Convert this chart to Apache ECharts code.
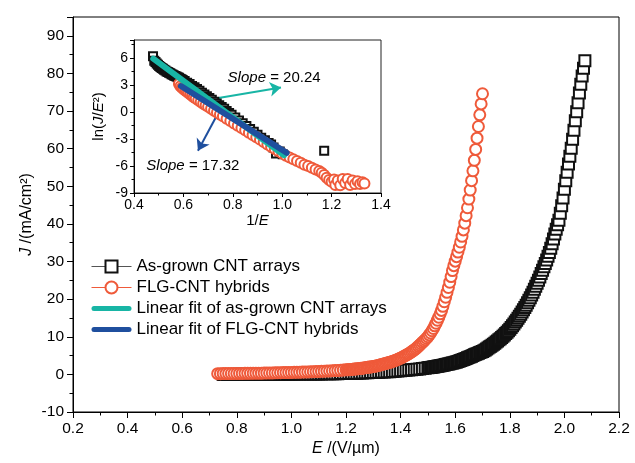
<!DOCTYPE html>
<html>
<head>
<meta charset="utf-8">
<script src="https://cdn.jsdelivr.net/npm/echarts@6/dist/echarts.min.js"></script>
<style>
  html, body { margin: 0; padding: 0; background: #fff; }
  #chart { width: 635px; height: 463px; }
</style>
</head>
<body>
<div id="chart"></div>
<script>
// ---- J–E curves: [E (V/µm), J (mA/cm²)] ----
const asGrownPoints = [
  [0.75,0.00],[0.76,0.00],[0.77,0.00],[0.78,0.00],[0.79,0.00],[0.80,0.01],[0.81,0.01],[0.82,0.01],[0.83,0.01],[0.84,0.01],
  [0.85,0.02],[0.86,0.02],[0.87,0.02],[0.88,0.02],[0.89,0.02],[0.90,0.03],[0.91,0.03],[0.92,0.03],[0.93,0.03],[0.94,0.04],
  [0.95,0.04],[0.96,0.04],[0.97,0.05],[0.98,0.05],[0.99,0.05],
  [1.00,0.06],[1.01,0.06],[1.02,0.07],[1.03,0.07],[1.04,0.08],[1.05,0.08],[1.06,0.09],[1.07,0.10],[1.08,0.10],[1.09,0.11],
  [1.10,0.12],[1.11,0.13],[1.12,0.14],[1.13,0.15],[1.14,0.16],[1.15,0.17],[1.16,0.18],[1.17,0.20],[1.18,0.21],[1.19,0.23],
  [1.20,0.25],[1.21,0.27],[1.22,0.29],[1.23,0.31],[1.24,0.33],[1.25,0.35],[1.26,0.38],[1.27,0.41],[1.28,0.44],[1.29,0.47],
  [1.30,0.50],[1.31,0.53],[1.32,0.57],[1.33,0.61],[1.34,0.65],[1.35,0.69],[1.36,0.73],[1.37,0.78],[1.38,0.83],[1.39,0.89],
  [1.40,0.95],[1.41,1.01],[1.42,1.08],[1.43,1.15],[1.44,1.22],[1.45,1.29],[1.46,1.37],[1.47,1.45],[1.48,1.54],[1.49,1.63],
  [1.500,1.75],[1.505,1.80],[1.510,1.86],[1.515,1.92],[1.520,1.98],[1.525,2.04],[1.530,2.10],[1.535,2.16],[1.540,2.23],[1.545,2.30],
  [1.550,2.37],[1.555,2.44],[1.560,2.52],[1.565,2.60],[1.570,2.68],[1.575,2.76],[1.580,2.85],[1.585,2.93],[1.590,3.02],[1.595,3.11],
  [1.600,3.20],[1.605,3.32],[1.610,3.45],[1.615,3.57],[1.620,3.70],[1.625,3.82],[1.630,3.95],[1.635,4.10],[1.640,4.25],[1.645,4.40],
  [1.650,4.55],[1.655,4.70],[1.660,4.85],[1.665,5.02],[1.670,5.20],[1.675,5.35],[1.680,5.50],[1.685,5.65],[1.690,5.80],[1.695,5.95],
  [1.700,6.10],[1.705,6.30],[1.710,6.50],[1.715,6.75],[1.720,7.00],[1.725,7.25],[1.730,7.50],[1.735,7.75],[1.740,8.00],[1.745,8.30],
  [1.750,8.60],[1.755,8.90],[1.760,9.20],[1.765,9.50],[1.770,9.80],[1.775,10.15],[1.780,10.5],[1.785,10.85],[1.790,11.2],[1.795,11.6],
  [1.800,12.0],[1.805,12.45],[1.810,12.9],[1.815,13.4],[1.820,13.9],[1.825,14.4],[1.830,14.9],[1.835,15.45],[1.840,16.0],[1.845,16.6],
  [1.850,17.2],[1.855,17.8],[1.860,18.4],[1.865,19.05],[1.870,19.7],[1.875,20.4],[1.880,21.1],[1.885,21.85],[1.890,22.6],[1.895,23.4],
  [1.900,24.2],[1.905,25.0],[1.910,25.9],[1.915,26.8],[1.920,27.7],[1.925,28.6],[1.930,29.5],[1.935,30.4],[1.940,31.4],[1.945,32.4],
  [1.950,33.5],[1.955,34.7],[1.960,36.0],[1.965,37.3],[1.970,38.6],[1.975,39.8],[1.980,41.0],[1.985,42.8],[1.990,44.8],[1.995,46.9],
  [2.000,49.2],[2.005,51.5],[2.010,53.7],[2.015,55.9],[2.020,58.0],[2.025,60.1],[2.030,62.5],[2.035,64.9],[2.040,67.4],[2.045,69.8],
  [2.050,72.2],[2.055,74.8],[2.060,77.1],[2.065,79.3],[2.070,81.4],[2.075,83.4]
];
const hybridPoints = [
  [0.73,0.20],[0.74,0.20],[0.75,0.21],[0.76,0.21],[0.77,0.22],[0.78,0.22],[0.79,0.23],
  [0.80,0.24],[0.81,0.25],[0.82,0.26],[0.83,0.27],[0.84,0.28],[0.85,0.29],[0.86,0.30],[0.87,0.31],[0.88,0.32],[0.89,0.33],
  [0.90,0.35],[0.91,0.36],[0.92,0.38],[0.93,0.39],[0.94,0.41],[0.95,0.43],[0.96,0.45],[0.97,0.47],[0.98,0.49],[0.99,0.51],
  [1.00,0.53],[1.01,0.55],[1.02,0.57],[1.03,0.59],[1.04,0.61],[1.05,0.63],[1.06,0.66],[1.07,0.69],[1.08,0.72],[1.09,0.75],
  [1.10,0.78],[1.11,0.81],[1.12,0.84],[1.13,0.88],[1.14,0.92],[1.15,0.96],[1.16,1.00],[1.17,1.04],[1.18,1.09],[1.19,1.14],
  [1.200,1.20],[1.205,1.23],[1.210,1.26],[1.215,1.30],[1.220,1.33],[1.225,1.37],[1.230,1.40],[1.235,1.44],[1.240,1.48],[1.245,1.52],
  [1.250,1.57],[1.255,1.61],[1.260,1.66],[1.265,1.71],[1.270,1.76],[1.275,1.81],[1.280,1.87],[1.285,1.93],[1.290,1.99],[1.295,2.05],
  [1.300,2.10],[1.305,2.17],[1.310,2.25],[1.315,2.32],[1.320,2.40],[1.325,2.50],[1.330,2.60],[1.335,2.70],[1.340,2.80],[1.345,2.90],
  [1.350,3.00],[1.355,3.10],[1.360,3.20],[1.365,3.32],[1.370,3.45],[1.375,3.57],[1.380,3.70],[1.385,3.85],[1.390,4.00],[1.395,4.15],
  [1.400,4.30],[1.405,4.50],[1.410,4.70],[1.415,4.90],[1.420,5.10],[1.425,5.30],[1.430,5.50],[1.435,5.75],[1.440,6.00],[1.445,6.25],
  [1.450,6.50],[1.455,6.80],[1.460,7.10],[1.465,7.45],[1.470,7.80],[1.475,8.15],[1.480,8.50],[1.485,8.85],[1.490,9.20],[1.495,9.60],
  [1.500,10.0],[1.505,10.5],[1.510,11.0],[1.515,11.6],[1.520,12.2],[1.525,12.9],[1.530,13.6],[1.535,14.4],[1.540,15.2],[1.545,16.1],
  [1.550,17.0],[1.555,18.1],[1.560,19.3],[1.565,20.5],[1.570,21.8],[1.575,23.1],[1.580,24.5],[1.585,26.0],[1.590,27.6],[1.595,28.9],
  [1.600,30.1],[1.605,31.3],[1.610,32.5],[1.615,33.8],[1.620,35.2],[1.625,36.7],[1.630,38.4],[1.635,40.2],[1.640,42.2],[1.645,44.3],
  [1.650,46.6],[1.655,49.0],[1.660,51.5],[1.665,54.1],[1.670,56.9],[1.675,59.8],[1.680,62.8],[1.685,65.9],[1.690,69.0],[1.695,71.9],
  [1.700,74.6]
];

// ---- Fowler–Nordheim plot: ln(J/E²) against 1/E ----
const asGrownInvE = [
  0.477,0.482,0.487,0.492,0.497,0.502,0.507,0.512,0.517,0.522,0.527,0.532,0.537,0.542,0.547,0.552,0.557,0.562,0.567,0.572,
  0.577,0.582,0.587,0.592,0.597,0.605,0.615,0.625,0.635,0.645,0.655,0.665,0.675,0.685,0.695,0.705,0.715,0.725,0.735,0.745,
  0.755,0.765,0.775,0.785,0.795,0.810,0.825,0.840,0.855,0.870,0.885,0.900,0.915,0.930,0.945,0.955,0.965,0.975,0.990,1.002,
  1.170
];
const asGrownLn = [
  6.20,5.70,5.55,5.40,5.25,5.10,5.00,4.90,4.80,4.70,4.60,4.50,4.45,4.35,4.30,4.20,4.15,4.05,4.00,3.95,
  3.85,3.80,3.70,3.65,3.55,3.45,3.25,3.10,2.90,2.75,2.55,2.35,2.15,1.95,1.75,1.55,1.35,1.15,0.95,0.75,
  0.55,0.35,0.12,-0.10,-0.30,-0.62,-0.95,-1.25,-1.55,-1.88,-2.20,-2.52,-2.85,-3.15,-3.45,-3.60,-3.95,-4.60,-4.40,-4.70,
  -4.30
];
const hybridInvE = [
  0.582,0.588,0.594,0.600,0.607,0.614,0.621,0.628,0.635,0.642,0.650,0.660,0.670,0.680,0.690,0.700,0.712,0.724,0.736,0.748,
  0.760,0.775,0.790,0.805,0.820,0.835,0.850,0.865,0.880,0.895,0.910,0.925,0.940,0.955,0.970,0.985,1.000,1.015,1.030,1.045,
  1.060,1.075,1.090,1.105,1.120,1.135,1.150,1.160,1.170,1.180,1.190,1.200,1.210,1.215,1.225,1.235,1.245,1.255,1.265,1.275,
  1.285,1.295,1.305,1.315,1.325,1.333
];
const hybridLn = [
  3.10,2.85,2.70,2.55,2.40,2.25,2.10,1.95,1.80,1.65,1.50,1.30,1.10,0.92,0.75,0.57,0.37,0.15,-0.05,-0.27,
  -0.48,-0.75,-1.00,-1.27,-1.52,-1.78,-2.03,-2.30,-2.55,-2.80,-3.07,-3.33,-3.60,-3.85,-4.10,-4.35,-4.60,-4.85,-5.05,-5.25,
  -5.45,-5.65,-5.85,-6.00,-6.20,-6.40,-6.55,-6.75,-7.00,-7.30,-7.55,-7.75,-7.50,-8.10,-7.60,-8.15,-7.45,-7.90,-7.45,-8.10,
  -7.60,-8.00,-7.70,-8.00,-7.80,-7.95
];

// Linear fits: ln(J/E²) = intercept − slope · (1/E)
const asGrownSlope = 20.24, asGrownIntercept = 15.60, asGrownFitRange = [0.478, 1.008];
const hybridSlope = 17.32,  hybridIntercept = 13.10,  hybridFitRange  = [0.590, 1.018];

const seriesNames = [
  'As-grown CNT arrays',
  'FLG-CNT hybrids',
  'Linear fit of as-grown CNT arrays',
  'Linear fit of FLG-CNT hybrids'
];

const FONT = "'Liberation Sans', Arial, Helvetica, sans-serif";
const C_BLACK = '#111111';
const C_RED = '#ef5a3a';
const C_TEAL = '#18b5a5';
const C_BLUE = '#1f4f9e';

// rounded bar used as the legend glyph of the fit lines
const FIT_ICON = 'path://M2.5,0 L37.5,0 A2.5,2.5 0 0 1 37.5,5 L2.5,5 A2.5,2.5 0 0 1 2.5,0 Z';

const zip = (xs, ys) => xs.map((x, i) => [x, ys[i]]);
const fitLine = (slope, b, range) => range.map(u => [u, +(b - slope * u).toFixed(3)]);

const chart = echarts.init(document.getElementById('chart'), null, { renderer: 'canvas' });

const italicRich = size => ({ i: { fontStyle: 'italic', fontSize: size, fontFamily: FONT, color: '#000' } });

function valueAxis(extra) {
  return Object.assign({
    type: 'value',
    nameMoveOverlap: false,
    axisLine: { show: true, onZero: false, lineStyle: { color: '#000', width: 1 } },
    axisTick: { show: true, inside: false, length: 6, lineStyle: { color: '#000', width: 1 } },
    minorTick: { show: true, splitNumber: 2, length: 3.5, lineStyle: { color: '#000', width: 1 } },
    splitLine: { show: false },
    minorSplitLine: { show: false }
  }, extra);
}

const lineMarker = (name, data, symbol, size, color, xi, z) => ({
  name, type: 'line', data, xAxisIndex: xi, yAxisIndex: xi,
  symbol, symbolSize: size, showSymbol: true, showAllSymbol: true,
  lineStyle: { width: 0, opacity: 0 },
  itemStyle: { color, borderColor: color, borderWidth: 1 },
  emphasis: { disabled: true }, silent: true, z, animation: false
});

const option = {
  animation: false,
  backgroundColor: '#fff',
  textStyle: { fontFamily: FONT },
  grid: [
    { left: 73, right: 16, top: 17, bottom: 51, show: true, borderColor: '#000', borderWidth: 1,
      backgroundColor: '#fff', containLabel: false, outerBoundsMode: 'none' },
    { left: 134, right: 254, top: 40, bottom: 270, show: true, borderColor: '#222', borderWidth: 1,
      backgroundColor: '#fff', containLabel: false, outerBoundsMode: 'none', z: 5 }
  ],
  xAxis: [
    valueAxis({
      gridIndex: 0, min: 0.2, max: 2.2, interval: 0.2,
      axisLabel: { fontSize: 15.5, color: '#000', fontFamily: FONT, margin: 9,
                   formatter: v => v.toFixed(1) },
      name: '{i|E} /(V/µm)', nameLocation: 'middle', nameGap: 29,
      nameTextStyle: { fontSize: 16, color: '#000', fontFamily: FONT, rich: italicRich(16) }
    }),
    valueAxis({
      gridIndex: 1, min: 0.4, max: 1.4, interval: 0.2, z: 5,
      axisTick: { show: true, inside: false, length: 4, lineStyle: { color: '#000' } },
      minorTick: { show: true, splitNumber: 2, length: 2.5, lineStyle: { color: '#000' } },
      axisLabel: { fontSize: 14, color: '#000', fontFamily: FONT, margin: 5,
                   formatter: v => v.toFixed(1) },
      name: '1/{i|E}', nameLocation: 'middle', nameGap: 20,
      nameTextStyle: { fontSize: 15, color: '#000', fontFamily: FONT, rich: italicRich(15) }
    })
  ],
  yAxis: [
    valueAxis({
      gridIndex: 0, min: -10, max: 95, interval: 10,
      axisLabel: { fontSize: 15.5, color: '#000', fontFamily: FONT, margin: 9, showMaxLabel: false },
      name: '{i|J} /(mA/cm²)', nameLocation: 'middle', nameGap: 38,
      nameTextStyle: { fontSize: 16, color: '#000', fontFamily: FONT, rich: italicRich(16) }
    }),
    valueAxis({
      gridIndex: 1, min: -9, max: 8, interval: 3, z: 5,
      axisTick: { show: true, inside: false, length: 4, lineStyle: { color: '#000' } },
      minorTick: { show: true, splitNumber: 2, length: 2.5, lineStyle: { color: '#000' } },
      axisLabel: { fontSize: 14, color: '#000', fontFamily: FONT, margin: 6, showMaxLabel: false },
      name: 'ln({i|J}/{i|E}²)', nameLocation: 'middle', nameGap: 28,
      nameTextStyle: { fontSize: 15, color: '#000', fontFamily: FONT, rich: italicRich(15) }
    })
  ],
  legend: {
    orient: 'vertical', left: 91, top: 258, padding: 0,
    itemWidth: 40, itemHeight: 15, itemGap: 4,
    selectedMode: false,
    textStyle: { fontSize: 17, color: '#000', fontFamily: FONT },
    data: [
      { name: seriesNames[0], lineStyle: { color: '#555', width: 1, opacity: 1 },
        itemStyle: { color: C_BLACK, borderColor: C_BLACK, borderWidth: 1 } },
      { name: seriesNames[1], lineStyle: { color: C_RED, width: 1, opacity: 1 },
        itemStyle: { color: C_RED, borderColor: C_RED, borderWidth: 1 } },
      { name: seriesNames[2], icon: FIT_ICON, itemStyle: { color: C_TEAL } },
      { name: seriesNames[3], icon: FIT_ICON, itemStyle: { color: C_BLUE } }
    ]
  },
  series: [
    // main J–E curves
    lineMarker(seriesNames[0], asGrownPoints, 'emptyRect', 11, C_BLACK, 0, 2),
    lineMarker(seriesNames[1], hybridPoints, 'emptyCircle', 11, C_RED, 0, 3),
    // FN inset points
    lineMarker(seriesNames[0], zip(asGrownInvE, asGrownLn), 'emptyRect', 8, C_BLACK, 1, 6),
    lineMarker(seriesNames[1], zip(hybridInvE, hybridLn), 'emptyCircle', 10, C_RED, 1, 7),
    // linear fits with slope pointers
    {
      name: seriesNames[2], type: 'line', xAxisIndex: 1, yAxisIndex: 1, z: 8,
      data: fitLine(asGrownSlope, asGrownIntercept, asGrownFitRange),
      symbol: 'none', showSymbol: false, silent: true,
      lineStyle: { color: C_TEAL, width: 6, cap: 'round' },
      itemStyle: { color: C_TEAL },
      markLine: {
        silent: true, symbol: ['none', 'arrow'], symbolSize: 11,
        lineStyle: { color: C_TEAL, width: 2, type: 'solid' }, label: { show: false },
        data: [[{ coord: [0.718, 1.45] }, { coord: [0.995, 2.72] }]]
      }
    },
    {
      name: seriesNames[3], type: 'line', xAxisIndex: 1, yAxisIndex: 1, z: 9,
      data: fitLine(hybridSlope, hybridIntercept, hybridFitRange),
      symbol: 'none', showSymbol: false, silent: true,
      lineStyle: { color: C_BLUE, width: 6, cap: 'round' },
      itemStyle: { color: C_BLUE },
      markLine: {
        silent: true, symbol: ['none', 'arrow'], symbolSize: 11,
        lineStyle: { color: C_BLUE, width: 2, type: 'solid' }, label: { show: false },
        data: [[{ coord: [0.738, -0.26] }, { coord: [0.659, -4.3] }]]
      }
    }
  ]
};

chart.setOption(option);

// slope annotations placed in the inset's data space
const slopeRich = { i: { fontStyle: 'italic', fontSize: 15, fontFamily: FONT, fill: '#000', color: '#000' } };
const p1 = chart.convertToPixel({ gridIndex: 1 }, [0.779, 3.77]);
const p2 = chart.convertToPixel({ gridIndex: 1 }, [0.450, -5.94]);
chart.setOption({
  graphic: [
    { type: 'text', x: p1[0], y: p1[1], z: 20, silent: true,
      style: { text: '{i|Slope} = ' + asGrownSlope.toFixed(2), fontSize: 15, fontFamily: FONT,
               fill: '#000', verticalAlign: 'middle', align: 'left', rich: slopeRich } },
    { type: 'text', x: p2[0], y: p2[1], z: 20, silent: true,
      style: { text: '{i|Slope} = ' + hybridSlope.toFixed(2), fontSize: 15, fontFamily: FONT,
               fill: '#000', verticalAlign: 'middle', align: 'left', rich: slopeRich } }
  ]
});
</script>
</body>
</html>
